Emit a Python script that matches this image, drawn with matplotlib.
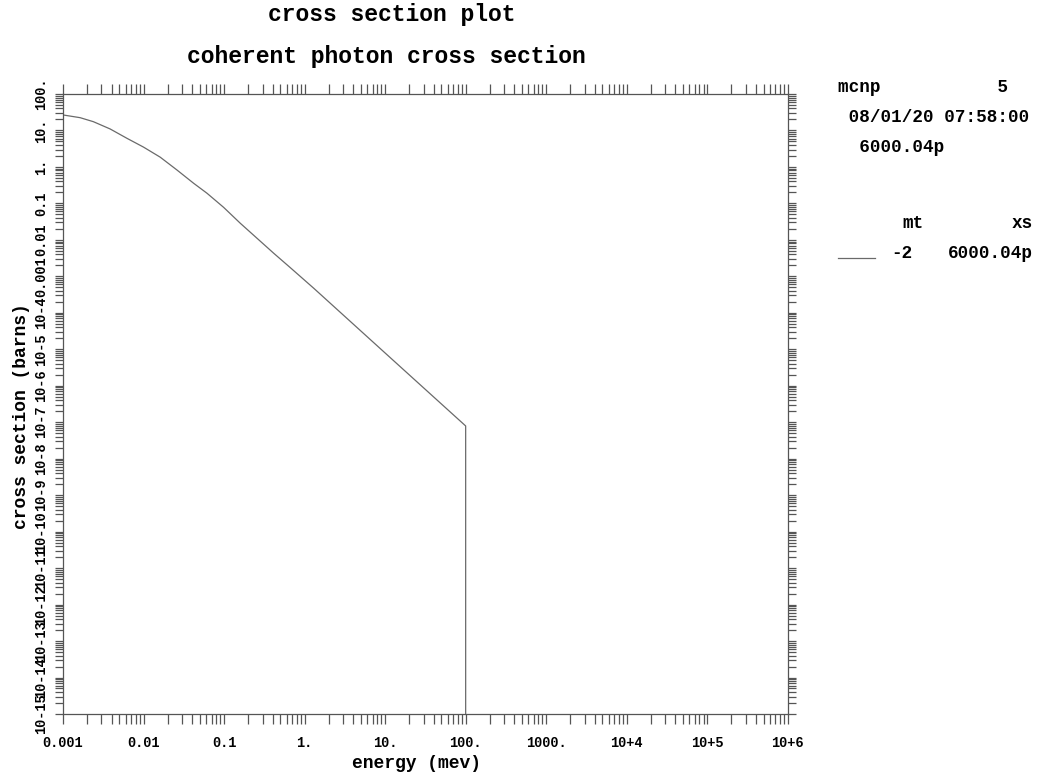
"""Coherent photon cross section plot (MCNP style)."""

import matplotlib.pyplot as plt
from matplotlib.ticker import FixedLocator, LogLocator, NullFormatter

# curve: energy (MeV) vs cross section (barns)
energy = [0.001, 0.00163, 0.00238, 0.00384, 0.0062, 0.00997, 0.0161,
          0.0259, 0.0418, 0.0613, 0.0986, 0.159, 0.256, 0.413, 0.666,
          1.3, 10.0, 100.0, 100.0]
xsec = [26.6, 22.4, 17.4, 11.0, 6.11, 3.5, 1.85,
        0.828, 0.357, 0.19, 0.078, 0.0285, 0.0111, 0.0043, 0.00172,
        4.7e-4, 7.9e-6, 7.9e-8, 1e-20]

x_ticks = [1e-3, 1e-2, 1e-1, 1, 10, 100, 1e3, 1e4, 1e5, 1e6]
x_labels = ["0.001", "0.01", "0.1", "1.", "10.", "100.", "1000.",
            "10+4", "10+5", "10+6"]
y_ticks = [10.0 ** p for p in range(2, -16, -1)]
y_labels = ["100.", "10.", "1.", "0.1", "0.01", "0.001"] + \
    [f"10-{p}" for p in range(4, 16)]

info_lines = ["mcnp           5", " 08/01/20 07:58:00", "  6000.04p"]
legend_head = ["mt", "xs"]
legend_row = ["-2", "6000.04p"]

font = "Liberation Mono"
grey = "#555555"

fig = plt.figure(figsize=(10.42, 7.78), dpi=100)
ax = fig.add_axes([0.0605, 0.0823, 0.6955, 0.7969])

ax.plot(energy, xsec, "-", color="#6a6a6a", linewidth=0.9)
ax.set_xscale("log")
ax.set_yscale("log")
ax.set_xlim(1e-3, 1e6)
ax.set_ylim(1e-15, 100)

ax.xaxis.set_major_locator(FixedLocator(x_ticks))
ax.set_xticklabels(x_labels)
ax.yaxis.set_major_locator(FixedLocator(y_ticks))
ax.set_yticklabels(y_labels)
for axis in (ax.xaxis, ax.yaxis):
    axis.set_minor_locator(LogLocator(base=10, subs=range(2, 10), numticks=40))
    axis.set_minor_formatter(NullFormatter())

ax.tick_params(which="both", direction="out", top=True, right=True,
               color=grey, width=0.9)
ax.tick_params(axis="x", which="both", length=7.2, pad=9)
ax.tick_params(axis="y", which="both", length=6, pad=5)
for lab in ax.get_xticklabels():
    lab.set_fontfamily(font)
    lab.set_fontweight("bold")
    lab.set_fontsize(9.8)
for lab in ax.get_yticklabels():
    lab.set_fontfamily(font)
    lab.set_fontweight("bold")
    lab.set_fontsize(9.8)
    lab.set_rotation(90)
    lab.set_verticalalignment("center")

for spine in ax.spines.values():
    spine.set_color(grey)
    spine.set_linewidth(0.9)

fig.text(392 / 1042, 1 - 15 / 778, "cross section plot", ha="center",
         va="center", fontsize=16.6, fontfamily=font, fontweight="bold")
fig.text(386 / 1042, 1 - 57 / 778, "coherent photon cross section",
         ha="center", va="center", fontsize=16.6, fontfamily=font,
         fontweight="bold")
fig.text(416 / 1042, 1 - 764 / 778, "energy (mev)", ha="center", va="center",
         fontsize=13, fontfamily=font, fontweight="bold")
fig.text(22 / 1042, 1 - 416 / 778, "cross section (barns)", ha="center",
         va="center", rotation=90, fontsize=13, fontfamily=font,
         fontweight="bold")

for i, line in enumerate(info_lines):
    fig.text(838 / 1042, 1 - (88 + 30 * i) / 778, line, ha="left",
             va="center", fontsize=12.7, fontfamily=font, fontweight="bold")
fig.text(913 / 1042, 1 - 223 / 778, legend_head[0], ha="center", va="center",
         fontsize=12.7, fontfamily=font, fontweight="bold")
fig.text(1033 / 1042, 1 - 223 / 778, legend_head[1], ha="right", va="center",
         fontsize=12.7, fontfamily=font, fontweight="bold")
fig.add_artist(plt.Line2D([838 / 1042, 875 / 1042], [1 - 258 / 778] * 2,
                          color="#6a6a6a", linewidth=0.9))
fig.text(902 / 1042, 1 - 253 / 778, legend_row[0], ha="center", va="center",
         fontsize=12.7, fontfamily=font, fontweight="bold")
fig.text(1033 / 1042, 1 - 253 / 778, legend_row[1], ha="right", va="center",
         fontsize=12.7, fontfamily=font, fontweight="bold")

plt.savefig("out.png", dpi=100)
plt.close()
